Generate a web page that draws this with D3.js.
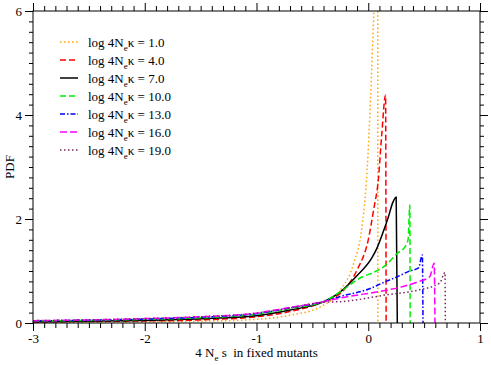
<!DOCTYPE html>
<html>
<head>
<meta charset="utf-8">
<script src="https://cdn.jsdelivr.net/npm/d3@7"></script>
<style>
  body { margin: 0; background: #fff; }
  text { font-family: "Liberation Serif", "DejaVu Serif", serif; fill: #000; }
</style>
</head>
<body>
<div id="chart"></div>
<script>
// **** THE DATA ****
const seriesLabels = ["1.0", "4.0", "7.0", "10.0", "13.0", "16.0", "19.0"]

// each series: x values and PDF values
const x1 = [-3, -2.5, -2, -1.5, -1, -0.7, -0.43, -0.25, -0.13, -0.06, -0.01, 0.02, 0.05, 0.084, 0.086]
const y1 = [0.01, 0.015, 0.02, 0.035, 0.07, 0.15, 0.31, 0.63, 1.15, 1.79, 2.94, 4.29, 5.96, 7.5, 0]

const x4 = [-3, -2.5, -2, -1.5, -1, -0.7, -0.4, -0.22, -0.1, 0.0, 0.05, 0.09, 0.12, 0.155, 0.16]
const y4 = [0.02, 0.03, 0.04, 0.06, 0.12, 0.22, 0.41, 0.63, 1.02, 1.6, 2.2, 2.75, 3.6, 4.38, 0]

const x7 = [-3, -2.5, -2, -1.5, -1, -0.7, -0.4, -0.25, -0.11, 0.04, 0.08, 0.13, 0.18, 0.22, 0.25, 0.26]
const y7 = [0.025, 0.035, 0.05, 0.08, 0.14, 0.25, 0.41, 0.6, 0.89, 1.28, 1.45, 1.73, 2.04, 2.32, 2.42, 0]

const x10 = [-3, -2.5, -2, -1.5, -1, -0.7, -0.4, -0.25, -0.1, 0.16, 0.26, 0.33, 0.356, 0.372, 0.375]
const y10 = [0.035, 0.05, 0.07, 0.1, 0.17, 0.28, 0.41, 0.6, 0.83, 1.12, 1.34, 1.47, 1.6, 2.27, 0]

const x13 = [-3, -2.5, -2, -1.5, -1, -0.7, -0.4, -0.25, 0.0, 0.16, 0.26, 0.37, 0.45, 0.484, 0.49]
const y13 = [0.04, 0.055, 0.075, 0.11, 0.18, 0.29, 0.41, 0.51, 0.65, 0.8, 0.89, 1.0, 1.06, 1.31, 0]

const x16 = [-3, -2.5, -2, -1.5, -1, -0.7, -0.4, -0.25, 0.16, 0.29, 0.44, 0.55, 0.59, 0.597]
const y16 = [0.045, 0.06, 0.085, 0.12, 0.19, 0.3, 0.41, 0.48, 0.63, 0.69, 0.79, 0.89, 1.15, 0]

const x19 = [-3, -2.5, -2, -1.5, -1, -0.7, -0.4, -0.25, 0.16, 0.44, 0.64, 0.687, 0.69]
const y19 = [0.045, 0.06, 0.085, 0.12, 0.19, 0.29, 0.4, 0.41, 0.54, 0.63, 0.77, 0.97, 0]

const xTicks = [-3, -2, -1, 0, 1]
const yTicks = [0, 2, 4, 6]

// **** THE SETUP ****
const margin = {top: 11, right: 11, bottom: 42, left: 33}
const width = 491 - margin.left - margin.right
const height = 365 - margin.top - margin.bottom

const xScale = d3.scaleLinear().domain([-3, 1]).range([0, width])
const yScale = d3.scaleLinear().domain([0, 6]).range([height, 0])

const series = [
  {xs: x1,  ys: y1,  color: "#ffa500", dash: "1.5,2.5"},
  {xs: x4,  ys: y4,  color: "#ff0000", dash: "6,3"},
  {xs: x7,  ys: y7,  color: "#000000", dash: null},
  {xs: x10, ys: y10, color: "#00ee00", dash: "6,3"},
  {xs: x13, ys: y13, color: "#0000ff", dash: "5,2,1.5,2"},
  {xs: x16, ys: y16, color: "#ff00ff", dash: "7,3"},
  {xs: x19, ys: y19, color: "#7a2a62", dash: "1.5,2.5"}
]

const line = d3.line()
  .x(d => xScale(d[0]))
  .y(d => yScale(d[1]))
  .curve(d3.curveMonotoneX)

// **** PUT IT ON THE PAGE ****
const svg = d3.select("#chart").append("svg")
    .attr("width", 491)
    .attr("height", 365)
  .append("g")
    .attr("transform", "translate(" + margin.left + "," + margin.top + ")")

svg.append("clipPath").attr("id", "clip")
  .append("rect").attr("width", width).attr("height", height)

// axes: major + minor ticks, all pointing outward
function addAxis(axisFn, scale, values, size, labelled, transform) {
  const g = svg.append("g")
    .attr("transform", transform)
    .call(axisFn(scale).tickValues(values).tickSize(size).tickPadding(3)
      .tickFormat(labelled ? (d => String(d)) : ""))
  g.select(".domain").remove()
  g.selectAll(".tick line").attr("stroke", "#000").attr("stroke-width", 1)
  g.selectAll(".tick text")
    .style("font-family", "Liberation Serif, serif")
    .style("font-size", "13px")
  return g
}

const xMinor = d3.range(-30, 11).map(d => d / 10).filter(d => !xTicks.includes(d))
const yMinor = d3.range(0, 31).map(d => d / 5).filter(d => !yTicks.includes(d))

addAxis(d3.axisBottom, xScale, xTicks, 8, true, "translate(0," + height + ")")
addAxis(d3.axisBottom, xScale, xMinor, 5, false, "translate(0," + height + ")")
addAxis(d3.axisTop, xScale, xTicks, 8, false, "translate(0,0)")
addAxis(d3.axisTop, xScale, xMinor, 5, false, "translate(0,0)")
addAxis(d3.axisLeft, yScale, yTicks, 8, true, "translate(0,0)")
addAxis(d3.axisLeft, yScale, yMinor, 4, false, "translate(0,0)")
addAxis(d3.axisRight, yScale, yTicks, 8, false, "translate(" + width + ",0)")
addAxis(d3.axisRight, yScale, yMinor, 4, false, "translate(" + width + ",0)")

// curves
const plot = svg.append("g").attr("clip-path", "url(#clip)")
series.forEach(s => {
  plot.append("path")
    .datum(s.xs.map((x, i) => [x, s.ys[i]]))
    .attr("fill", "none")
    .attr("stroke", s.color)
    .attr("stroke-width", 1.5)
    .attr("stroke-dasharray", s.dash)
    .attr("d", line)
})

// frame
svg.append("rect")
  .attr("width", width).attr("height", height)
  .attr("fill", "none").attr("stroke", "#000").attr("stroke-width", 1)

// legend
const legend = svg.append("g").attr("transform", "translate(27,31)")
series.forEach((s, i) => {
  const row = legend.append("g").attr("transform", "translate(0," + (i * 18) + ")")
  row.append("line")
    .attr("x1", 0).attr("x2", 18)
    .attr("stroke", s.color).attr("stroke-width", 1.5)
    .attr("stroke-dasharray", s.dash)
  const t = row.append("text").attr("x", 28).attr("y", 4.5).style("font-size", "13px")
  t.append("tspan").text("log 4N")
  t.append("tspan").attr("dy", 4).style("font-size", "9px").text("e")
  t.append("tspan").attr("dy", -4).text("\u03ba = " + seriesLabels[i])
})

// axis titles
const xt = svg.append("text")
  .attr("x", width / 2).attr("y", height + 34)
  .attr("text-anchor", "middle").style("font-size", "13px")
xt.append("tspan").text("4 N")
xt.append("tspan").attr("dy", 4).style("font-size", "9px").text("e")
xt.append("tspan").attr("dy", -4).text(" s \u00a0in fixed mutants")

svg.append("text")
  .attr("transform", "translate(" + (-19) + "," + (height / 2) + ") rotate(-90)")
  .attr("text-anchor", "middle").style("font-size", "13px")
  .text("PDF")
</script>
</body>
</html>
